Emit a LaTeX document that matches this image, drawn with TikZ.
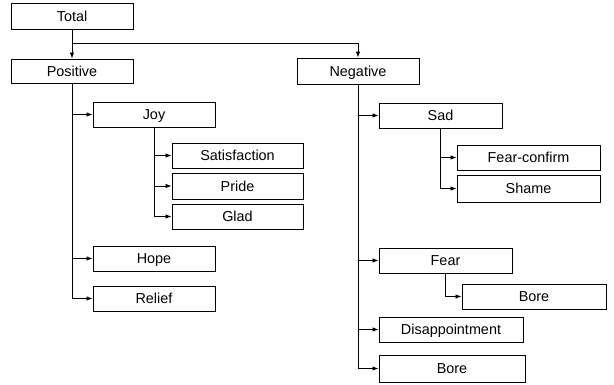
\documentclass[tikz,border=0pt]{standalone}
\usepackage{fontspec}
\setmainfont{Liberation Sans}
\usetikzlibrary{arrows.meta}
\begin{document}
\begin{tikzpicture}[x=1pt,y=-1pt,
  box/.style={draw,line width=0.9pt,inner sep=0pt,text height=10.3pt,text depth=0pt,font=\fontsize{14.4}{16}\selectfont},
  arr/.style={line width=0.8pt,-{Latex[length=6pt,width=4.5pt]}},
  ln/.style={line width=0.8pt}]
\useasboundingbox (0,0) rectangle (614,385);
\newcommand{\bx}[6]{\node[box,minimum width=#4-#2,minimum height=#5-#3] (#1) at ({(#2+#4)/2},{(#3+#5)/2}) {#6};}
\bx{total}{11}{3}{133}{29}{Total}
\bx{positive}{11}{59}{133}{83}{Positive}
\bx{negative}{297}{58}{419}{84}{Negative}
\bx{joy}{93}{102}{215}{127}{Joy}
\bx{satis}{172}{143}{303}{168}{Satisfaction}
\bx{pride}{172}{173}{303}{199}{Pride}
\bx{glad}{172}{204}{303}{229}{Glad}
\bx{hope}{93}{246}{215}{271}{Hope}
\bx{relief}{93}{286}{215}{311}{Relief}
\bx{sad}{379}{103}{502}{128}{Sad}
\bx{fearc}{457}{145}{600}{170}{Fear-confirm}
\bx{shame}{457}{175}{600}{202}{Shame}
\bx{fear}{379}{248}{512}{273}{Fear}
\bx{bore1}{462}{284}{606}{309}{Bore}
\bx{disap}{379}{317}{523}{342}{Disappointment}
\bx{bore2}{379}{355}{525}{382}{Bore}
\coordinate (split) at (72,43);
% Total
\draw[arr] (total.south) -- (positive.north);
\draw[arr] (split) -| (negative.north);
% Positive
\draw[arr] (positive.south) |- (relief.west);
\draw[arr] (positive.south |- joy.west) -- (joy.west);
\draw[arr] (positive.south |- hope.west) -- (hope.west);
% Joy
\draw[arr] (joy.south) |- (glad.west);
\draw[arr] (joy.south |- satis.west) -- (satis.west);
\draw[arr] (joy.south |- pride.west) -- (pride.west);
% Negative
\draw[arr] (negative.south) |- (bore2.west);
\draw[arr] (negative.south |- sad.west) -- (sad.west);
\draw[arr] (negative.south |- fear.west) -- (fear.west);
\draw[arr] (negative.south |- disap.west) -- (disap.west);
% Sad
\draw[arr] (sad.south) |- (shame.west);
\draw[arr] (sad.south |- fearc.west) -- (fearc.west);
% Fear
\draw[arr] (fear.south) |- (bore1.west);
\end{tikzpicture}
\end{document}
